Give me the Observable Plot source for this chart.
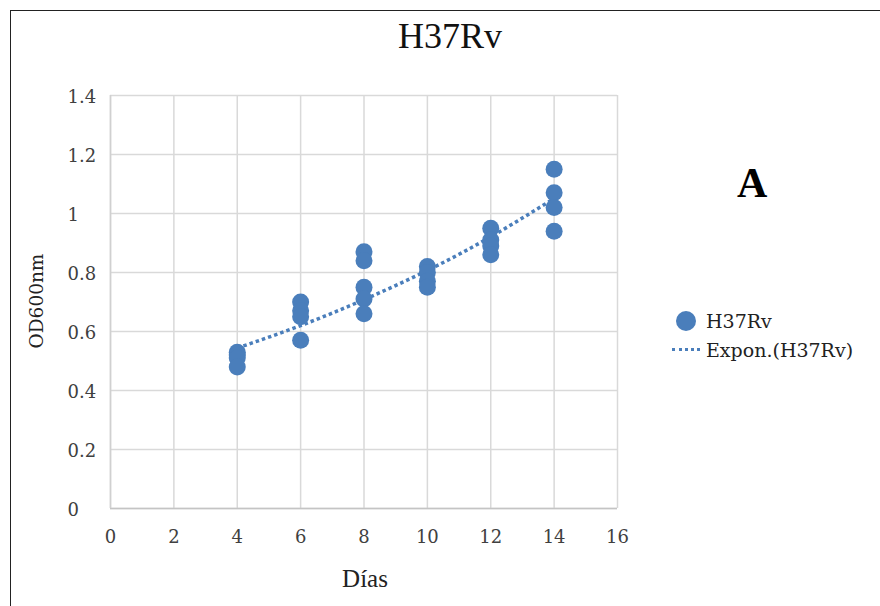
<!DOCTYPE html>
<html>
<head>
<meta charset="utf-8">
<script src="https://cdn.jsdelivr.net/npm/d3@7"></script>
<script src="https://cdn.jsdelivr.net/npm/@observablehq/plot@0.6"></script>
<style>
  html, body { margin: 0; padding: 0; background: #fff; }
  #wrap { position: relative; width: 880px; height: 606px; overflow: hidden; background: #fff; }
  #wrap svg { position: absolute; left: 0; top: 0; }
  .txt { position: absolute; white-space: nowrap; line-height: 1; }
  #border { position: absolute; left: 10px; top: 10px; width: 880px; height: 606px;
            border-top: 1.5px solid #222; border-left: 1.5px solid #222; }
</style>
</head>
<body>
<div id="wrap">
  <div id="border"></div>
</div>
<script>
// ---- data ----
const dayGroups = [4, 6, 8, 10, 12, 14];
const odValues = [
  [0.53, 0.52, 0.51, 0.48],
  [0.70, 0.67, 0.65, 0.57],
  [0.87, 0.84, 0.75, 0.71, 0.66],
  [0.82, 0.80, 0.77, 0.75],
  [0.95, 0.91, 0.89, 0.86],
  [1.15, 1.07, 1.02, 0.94]
];
const trendValues = [0.544, 0.620, 0.708, 0.807, 0.921, 1.051];
const xTicks = [0, 2, 4, 6, 8, 10, 12, 14, 16];
const yTicks = [0, 0.2, 0.4, 0.6, 0.8, 1, 1.2, 1.4];
const titleText = "H37Rv";
const xLabel = "Días";
const yLabel = "OD600nm";
const seriesName = "H37Rv";
const trendName = "Expon.(H37Rv)";
const panelLetter = "A";

const blue = "#4a7ebb";

const points = dayGroups.flatMap((d, i) => odValues[i].map(v => ({dia: d, od: v})));
const trend = dayGroups.map((d, i) => ({dia: d, od: trendValues[i]}));

const chart = Plot.plot({
  width: 880,
  height: 606,
  marginLeft: 110,
  marginRight: 263,
  marginTop: 95,
  marginBottom: 98,
  style: {fontFamily: "DejaVu Serif", fontSize: "18px", color: "#404040", background: "transparent"},
  x: {domain: [0, 16]},
  y: {domain: [0, 1.4]},
  marks: [
    Plot.gridX(xTicks, {stroke: "#d9d9d9", strokeOpacity: 1, strokeWidth: 1.5}),
    Plot.gridY(yTicks, {stroke: "#d9d9d9", strokeOpacity: 1, strokeWidth: 1.5}),
    Plot.ruleY([0], {stroke: "#c4c4c4", strokeWidth: 1.5}),
    Plot.ruleX([0], {stroke: "#d0d0d0", strokeWidth: 1.5}),
    Plot.axisX(xTicks, {tickSize: 0, tickPadding: 22, label: null, fontSize: 18, fill: "#404040"}),
    Plot.axisY(yTicks, {tickSize: 0, tickPadding: 0, textAnchor: "start", dx: -43, dy: 2,
                        label: null, fontSize: 18, fill: "#404040", tickFormat: d => String(d)}),
    Plot.line(trend, {x: "dia", y: "od", stroke: blue, strokeWidth: 3.5,
                      strokeDasharray: "3.5 3", strokeLinecap: "butt", curve: "natural"}),
    Plot.dot(points, {x: "dia", y: "od", r: 8.5, fill: blue, stroke: "none"})
  ]
});

const wrap = document.getElementById("wrap");
wrap.appendChild(chart);

function addText(txt, css) {
  const d = document.createElement("div");
  d.className = "txt";
  d.textContent = txt;
  Object.assign(d.style, css);
  wrap.appendChild(d);
  return d;
}

// title
addText(titleText, {left: "450px", top: "18px", transform: "translateX(-50%)",
  fontFamily: "Liberation Serif", fontSize: "36px", color: "#111"});
// x axis label
addText(xLabel, {left: "365px", top: "566px", transform: "translateX(-50%)",
  fontFamily: "Liberation Serif", fontSize: "25px", color: "#222"});
// y axis label
addText(yLabel, {left: "37px", top: "301px", transform: "translate(-50%,-50%) rotate(-90deg)",
  fontFamily: "DejaVu Serif", fontSize: "18.5px", color: "#222"});
// panel letter
addText(panelLetter, {left: "737px", top: "162px",
  fontFamily: "Liberation Serif", fontSize: "42px", fontWeight: "bold", color: "#000"});

// legend
const sym = document.createElement("div");
Object.assign(sym.style, {position: "absolute", left: "676px", top: "311px", width: "20px", height: "20px",
  borderRadius: "50%", background: blue});
wrap.appendChild(sym);
const dash = document.createElement("div");
Object.assign(dash.style, {position: "absolute", left: "672px", top: "348px", width: "28px", height: "0",
  borderTop: "3px dotted " + blue});
wrap.appendChild(dash);
addText(seriesName, {left: "706px", top: "312px", fontFamily: "DejaVu Serif", fontSize: "19px", color: "#222"});
addText(trendName, {left: "706px", top: "341px", fontFamily: "DejaVu Serif", fontSize: "19px", color: "#222"});
</script>
</body>
</html>
